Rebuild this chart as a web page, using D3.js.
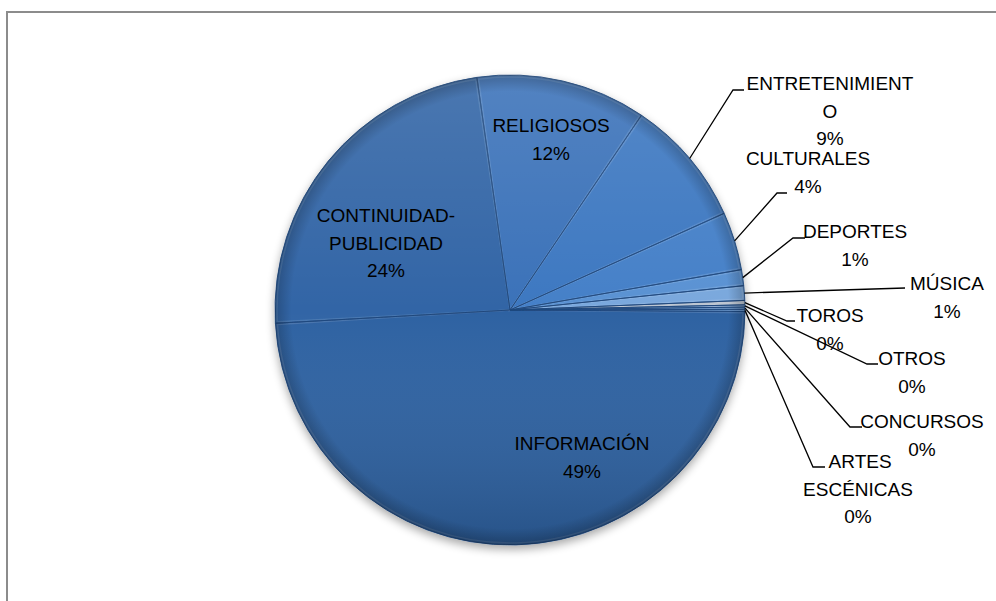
<!DOCTYPE html>
<html><head><meta charset="utf-8">
<script src="https://cdn.jsdelivr.net/npm/d3@7"></script>
<style>body{margin:0;background:#fff}svg{display:block}</style>
</head><body>
<script>
const categories = ["RELIGIOSOS","ENTRETENIMIENTO","CULTURALES","DEPORTES","MÚSICA","TOROS","OTROS","CONCURSOS","ARTES ESCÉNICAS","INFORMACIÓN","CONTINUIDAD-PUBLICIDAD"];
const values = [11.7, 8.8, 4.0, 1.1, 1.0, 0.3, 0.15, 0.15, 0.15, 49.0, 23.65];
const percentLabels = ["12%","9%","4%","1%","1%","0%","0%","0%","0%","49%","24%"];
const labelLines = [["RELIGIOSOS"],["ENTRETENIMIENT","O"],["CULTURALES"],["DEPORTES"],["MÚSICA"],["TOROS"],["OTROS"],["CONCURSOS"],[" ARTES","ESCÉNICAS"],["INFORMACIÓN"],["CONTINUIDAD-","PUBLICIDAD"]];
const sliceColors = ["#3a72b9","#3d78c1","#4580c8","#5a92d3","#7aa8dd","#b4bfcc","#8fb0d8","#6f9bd0","#5b8cc8","#2f62a2","#3065a6"];

const W = 996, H = 601;
const cx = 510, cy = 310, R = 235;
const startDeg = -8.1;

const svg = d3.select("body").append("svg").attr("width", W).attr("height", H);
const defs = svg.append("defs");

svg.append("rect").attr("x", 7).attr("y", 12).attr("width", 1000).attr("height", 620)
  .attr("fill", "#fff").attr("stroke", "#8c8c8c").attr("stroke-width", 2);

const f = defs.append("filter").attr("id","sh").attr("x","-20%").attr("y","-20%").attr("width","140%").attr("height","140%");
f.append("feGaussianBlur").attr("in","SourceAlpha").attr("stdDeviation",5);
f.append("feOffset").attr("dx",0).attr("dy",4).attr("result","b");
const fc = f.append("feComponentTransfer"); fc.append("feFuncA").attr("type","linear").attr("slope",0.35);
const fm = f.append("feMerge"); fm.append("feMergeNode"); fm.append("feMergeNode").attr("in","SourceGraphic");

const lg = defs.append("linearGradient").attr("id","lg").attr("x1",0).attr("y1",0).attr("x2",0).attr("y2",1);
lg.append("stop").attr("offset","0%").attr("stop-color","#fff").attr("stop-opacity",0.12);
lg.append("stop").attr("offset","50%").attr("stop-color","#fff").attr("stop-opacity",0.0);
lg.append("stop").attr("offset","100%").attr("stop-color","#000").attr("stop-opacity",0.16);
const rg = defs.append("radialGradient").attr("id","rg").attr("cx","50%").attr("cy","50%").attr("r","50%");
rg.append("stop").attr("offset","0%").attr("stop-color","#000").attr("stop-opacity",0);
rg.append("stop").attr("offset","93%").attr("stop-color","#000").attr("stop-opacity",0);
rg.append("stop").attr("offset","100%").attr("stop-color","#000").attr("stop-opacity",0.22);

const data = categories.map((c,i)=>({cat:c, value:values[i], i}));
const pie = d3.pie().value(d=>d.value).sort(null)
  .startAngle(startDeg*Math.PI/180).endAngle(startDeg*Math.PI/180 + 2*Math.PI);
const arcs = pie(data);
const arc = d3.arc().innerRadius(0).outerRadius(R);

const g = svg.append("g").attr("transform",`translate(${cx},${cy})`);
const pg = g.append("g").attr("filter","url(#sh)");
pg.selectAll("path.s").data(arcs).join("path").attr("class","s")
  .attr("d", arc).attr("fill", d=>sliceColors[d.index]);
pg.selectAll("path.hl").data(arcs).join("path").attr("class","hl")
  .attr("d", d=>d3.arc().innerRadius(0).outerRadius(R-2).startAngle(d.startAngle+0.006).endAngle(d.endAngle-0.006)())
  .attr("fill","none").attr("stroke","#ffffff").attr("stroke-opacity",0.12).attr("stroke-width",1.5);
pg.selectAll("path.bd").data(arcs).join("path").attr("class","bd")
  .attr("d", arc).attr("fill","none")
  .attr("stroke","#1d467c").attr("stroke-width",1).attr("stroke-opacity",0.85);
g.append("circle").attr("r",R).attr("fill","url(#lg)");
g.append("circle").attr("r",R).attr("fill","url(#rg)");

const font = "'Liberation Sans', Arial, sans-serif";
const fs = 19, lh = 27.5;
const labelPos = {
  "RELIGIOSOS":[551,132,null],
  "ENTRETENIMIENTO":[830,90,[733,90,744]],
  "CULTURALES":[808,165,[777,193,787]],
  "DEPORTES":[855,238,[793,238,805]],
  "MÚSICA":[947,290,[905,288,null]],
  "TOROS":[830,322,[787,321,795]],
  "OTROS":[912,365,[867,364,878]],
  "CONCURSOS":[922,428,[850,427,862]],
  "ARTES ESCÉNICAS":[858,468,[813,467,825]],
  "INFORMACIÓN":[582,450,null],
  "CONTINUIDAD-PUBLICIDAD":[386,222,null]
};
const lab = svg.append("g");
arcs.forEach(d=>{
  const p = labelPos[d.data.cat];
  const lines = labelLines[d.index].concat([percentLabels[d.index]]);
  if (p[2]) {
    const mid = (d.startAngle+d.endAngle)/2;
    const ex = cx + Math.sin(mid)*R, ey = cy - Math.cos(mid)*R;
    const pts = [[ex,ey],[p[2][0],p[2][1]]];
    if (p[2][2]!==null) pts.push([p[2][2],p[2][1]]);
    lab.append("path").attr("d", d3.line()(pts)).attr("fill","none").attr("stroke","#000").attr("stroke-width",1.3);
  }
  const t = lab.append("text").attr("font-family",font).attr("font-size",fs).attr("fill","#000").attr("text-anchor","middle");
  lines.forEach((ln,k)=>{
    t.append("tspan").attr("x", p[0]).attr("y", p[1]+k*lh).attr("xml:space","preserve").text(ln);
  });
});
</script>
</body></html>
